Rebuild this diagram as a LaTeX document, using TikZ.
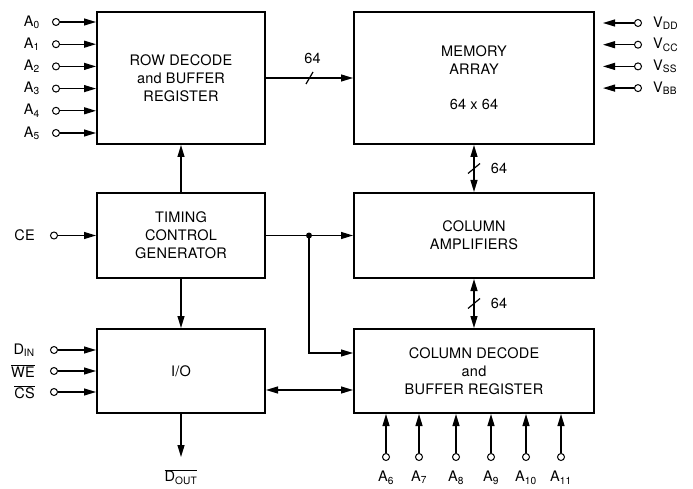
\documentclass[tikz,border=0pt]{standalone}
\usepackage{fontspec}
\setmainfont{TeX Gyre Heros}[LetterSpace=1.5]
\usepackage{tikz}
\usetikzlibrary{arrows.meta,positioning}

\tikzset{
  blk/.style={draw, line width=2pt, align=center, font=\fontsize{14.5}{18}\selectfont},
  pinc/.style={circle, draw, line width=1pt, inner sep=0pt, minimum size=7pt},
  sig/.style={line width=1.2pt, -{Triangle[length=12pt,width=7pt]}},
  bisig/.style={line width=1.2pt, {Triangle[length=12pt,width=7pt]}-{Triangle[length=12pt,width=7pt]}},
  lbl/.style={font=\fontsize{14.5}{16}\selectfont, inner sep=1pt},
}

\begin{document}
\begin{tikzpicture}[x=1pt,y=1pt]
  \useasboundingbox (0,0) rectangle (693,488);

  % blocks
  \node[blk, minimum width=168pt, minimum height=132pt] (row) at (181,410) {ROW DECODE\\and BUFFER\\REGISTER};
  \node[blk, minimum width=240pt, minimum height=132pt] (mem) at (474,410) {MEMORY\\ARRAY\\[17pt]64 x 64};
  \node[blk, minimum width=168pt, minimum height=85pt] (tim) at (181,252.5) {TIMING\\CONTROL\\GENERATOR};
  \node[blk, minimum width=240pt, minimum height=85pt] (amp) at (474,252.5) {COLUMN\\AMPLIFIERS};
  \node[blk, minimum width=168pt, minimum height=84pt] (io) at (181,117) {I/O};
  \node[blk, minimum width=240pt, minimum height=84pt] (dec) at (474,117) {COLUMN DECODE\\and\\BUFFER REGISTER};

  % row address pins
  \foreach \i in {0,...,5} {
    \node[pinc] (a\i) at (56,{466-22.2*\i}) {};
    \node[lbl, left=11pt of a\i] {A\textsubscript{\i}};
    \draw[sig] (a\i) -- (a\i -| row.west);
  }

  % supply pins
  \foreach \v [count=\i from 0] in {DD,CC,SS,BB} {
    \node[pinc] (v\v) at (638,{465-21.7*\i}) {};
    \node[lbl, right=10pt of v\v] {V\textsubscript{\v}};
    \draw[sig] (v\v) -- ++(-35,0);
  }

  % control pins
  \node[pinc] (ce) at (54,252.5) {};
  \node[lbl, left=14pt of ce] {CE};
  \draw[sig] (ce) -- (ce -| tim.west);
  \node[pinc] (din) at (54,138) {};
  \node[lbl, left=14pt of din] {D\textsubscript{IN}};
  \draw[sig] (din) -- (din -| io.west);
  \node[pinc] (we) at (54,117) {};
  \node[lbl, left=14pt of we] {$\overline{\mbox{WE}}$};
  \draw[sig] (we) -- (we -| io.west);
  \node[pinc] (cs) at (54,96) {};
  \node[lbl, left=14pt of cs] {$\overline{\mbox{CS}}$};
  \draw[sig] (cs) -- (cs -| io.west);

  % 64 bit buses
  \draw[sig] (row.east) -- coordinate (bus1) (mem.west);
  \draw[line width=1.2pt] ([shift={(-3.5,-6)}]bus1) -- ([shift={(3.5,6)}]bus1);
  \node[lbl] at ([shift={(3,20)}]bus1) {64};
  \draw[bisig] (mem.south) -- coordinate (bus2) (amp.north);
  \draw[line width=1.2pt] ([shift={(-6,-5)}]bus2) -- ([shift={(6,5)}]bus2);
  \node[lbl] at ([xshift=25pt]bus2) {64};
  \draw[bisig] (amp.south) -- coordinate (bus3) (dec.north);
  \draw[line width=1.2pt] ([shift={(-6,-5)}]bus3) -- ([shift={(6,5)}]bus3);
  \node[lbl] at ([xshift=25pt]bus3) {64};

  % timing
  \draw[sig] (tim.north) -- (row.south);
  \draw[sig] (tim.south) -- (io.north);
  \draw[sig] (tim.east) -- (amp.west);
  \coordinate (jct) at (309,252.5);
  \fill (jct) circle (3pt);
  \draw[sig] (jct) |- ([yshift=18pt]dec.west);
  \draw[bisig] ([yshift=-19pt]io.east) -- ([yshift=-19pt]dec.west);

  % data out
  \coordinate (dend) at (181,31);
  \draw[sig] (io.south) -- (dend);
  \node[lbl, below=11pt of dend] {$\overline{\mbox{D\textsubscript{OUT}}}$};

  % column address pins
  \foreach \x [count=\i from 6] in {386,419,456,491,526,561} {
    \node[pinc] (a\i) at (\x,31) {};
    \node[lbl, below=9pt of a\i] {A\textsubscript{\i}};
    \draw[sig] (a\i) -- (a\i |- dec.south);
  }
\end{tikzpicture}
\end{document}
